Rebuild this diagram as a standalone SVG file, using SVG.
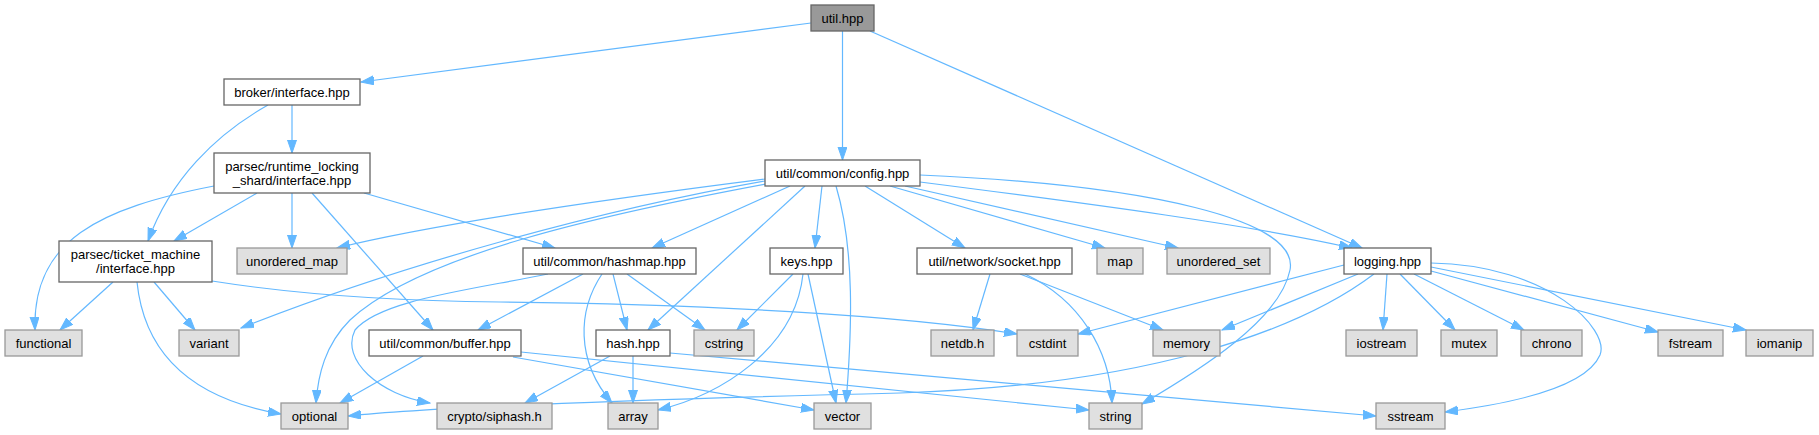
<svg xmlns="http://www.w3.org/2000/svg" width="1819" height="435" viewBox="0 0 1819 435">
<style>
.n rect{fill:#ffffff;stroke:#666666;stroke-width:1.3}
.g rect{fill:#e0e0e0;stroke:#999999;stroke-width:1.3}
.r rect{fill:#999999;stroke:#666666;stroke-width:1.3}
text{font-family:"Liberation Sans",Arial,Helvetica,sans-serif;font-size:13px;fill:#000000;text-anchor:middle}
#edges path{fill:none;stroke:#63b8ff;stroke-width:1.2;marker-end:url(#ah)}
</style>
<defs>
<marker id="ah" markerUnits="userSpaceOnUse" markerWidth="14" markerHeight="10" refX="13" refY="4.5" orient="auto">
<path d="M0,0 L13,4.5 L0,9 z" fill="#63b8ff" stroke="#63b8ff" stroke-width="1"/>
</marker>
</defs>
<rect width="1819" height="435" fill="#ffffff"/>
<g id="edges">
<path d="M811,23 L361,82"/>
<path d="M842.5,31 L842.5,160"/>
<path d="M870,31 L1362,248"/>
<path d="M292,105 L292,153"/>
<path d="M268,105 C215,135 170,180 148,241"/>
<path d="M214,186 C100,208 32,240 35,330"/>
<path d="M257,193 L174,241"/>
<path d="M292,193 L292,248"/>
<path d="M312,193 L433,330"/>
<path d="M364,193 L555,248"/>
<path d="M113,282 L60,330"/>
<path d="M154,282 L195,330"/>
<path d="M137,282 C145,360 200,400 281,414"/>
<path d="M212,281 C300,295 400,301 500,302 C700,304 900,315 1017,334"/>
<path d="M765,179 C600,200 430,225 337,248"/>
<path d="M765,181 C600,210 400,265 241,328"/>
<path d="M766,184 C600,215 420,255 350,320 C325,345 318,375 316,403"/>
<path d="M790,186 L652,248"/>
<path d="M805,186 L648,330"/>
<path d="M822,186 L815,248"/>
<path d="M836,186 C855,250 852,330 846,403"/>
<path d="M865,186 L965,248"/>
<path d="M890,186 L1105,248"/>
<path d="M905,186 L1178,248"/>
<path d="M920,182 C1100,205 1250,225 1352,248"/>
<path d="M920,175 C1150,185 1300,220 1290,270 C1280,320 1200,370 1142,404"/>
<path d="M583,274 L478,330"/>
<path d="M613,274 L627,330"/>
<path d="M627,274 L705,330"/>
<path d="M602,274 C578,310 575,360 612,403"/>
<path d="M548,274 C470,290 380,300 355,330 C340,360 380,395 430,403"/>
<path d="M793,274 L737,330"/>
<path d="M808,274 L836,403"/>
<path d="M803,274 C795,350 720,395 658,410"/>
<path d="M990,274 L973,330"/>
<path d="M1020,274 L1163,330"/>
<path d="M1025,274 C1080,300 1110,350 1112,403"/>
<path d="M633,356 L633,403"/>
<path d="M610,356 L525,403"/>
<path d="M670,353 L1376,416"/>
<path d="M423,356 L340,403"/>
<path d="M513,357 L814,410"/>
<path d="M521,352 L1089,410"/>
<path d="M1344,265 L1078,334"/>
<path d="M1358,274 L1222,330"/>
<path d="M1374,274 C1300,330 1150,385 900,393 C700,398 450,405 348,416"/>
<path d="M1387,274 L1383,330"/>
<path d="M1400,274 L1455,330"/>
<path d="M1414,274 L1524,330"/>
<path d="M1431,271 L1658,332"/>
<path d="M1431,267 L1746,330"/>
<path d="M1431,263 C1550,265 1610,330 1600,355 C1585,390 1500,405 1445,412"/>
</g>
<g id="util" class="r"><rect x="811" y="5" width="63" height="26"/><text x="842.5" y="22.5">util.hpp</text></g>
<g id="broker_interface" class="n"><rect x="224" y="79" width="136" height="26"/><text x="292" y="96.5">broker/interface.hpp</text></g>
<g id="runtime_locking_shard_interface" class="n"><rect x="214" y="153" width="156" height="40"/><text x="292" y="171">parsec/runtime_locking</text><text x="292" y="185">_shard/interface.hpp</text></g>
<g id="config" class="n"><rect x="765" y="160" width="155" height="26"/><text x="842.5" y="177.5">util/common/config.hpp</text></g>
<g id="ticket_machine_interface" class="n"><rect x="59" y="241" width="153" height="41"/><text x="135.5" y="259">parsec/ticket_machine</text><text x="135.5" y="273">/interface.hpp</text></g>
<g id="unordered_map" class="g"><rect x="237" y="248" width="110" height="26"/><text x="292" y="265.5">unordered_map</text></g>
<g id="hashmap" class="n"><rect x="523" y="248" width="173" height="26"/><text x="609.5" y="265.5">util/common/hashmap.hpp</text></g>
<g id="keys" class="n"><rect x="770" y="248" width="73" height="26"/><text x="806.5" y="265.5">keys.hpp</text></g>
<g id="socket" class="n"><rect x="917" y="248" width="155" height="26"/><text x="994.5" y="265.5">util/network/socket.hpp</text></g>
<g id="map" class="g"><rect x="1097" y="248" width="46" height="26"/><text x="1120" y="265.5">map</text></g>
<g id="unordered_set" class="g"><rect x="1167" y="248" width="103" height="26"/><text x="1218.5" y="265.5">unordered_set</text></g>
<g id="logging" class="n"><rect x="1344" y="248" width="87" height="26"/><text x="1387.5" y="265.5">logging.hpp</text></g>
<g id="functional" class="g"><rect x="5" y="330" width="77" height="26"/><text x="43.5" y="347.5">functional</text></g>
<g id="variant" class="g"><rect x="179" y="330" width="60" height="26"/><text x="209" y="347.5">variant</text></g>
<g id="buffer" class="n"><rect x="369" y="330" width="152" height="26"/><text x="445" y="347.5">util/common/buffer.hpp</text></g>
<g id="hash" class="n"><rect x="596" y="330" width="74" height="26"/><text x="633" y="347.5">hash.hpp</text></g>
<g id="cstring" class="g"><rect x="694" y="330" width="60" height="26"/><text x="724" y="347.5">cstring</text></g>
<g id="netdb" class="g"><rect x="931" y="330" width="63" height="26"/><text x="962.5" y="347.5">netdb.h</text></g>
<g id="cstdint" class="g"><rect x="1017" y="330" width="61" height="26"/><text x="1047.5" y="347.5">cstdint</text></g>
<g id="memory" class="g"><rect x="1153" y="330" width="67" height="26"/><text x="1186.5" y="347.5">memory</text></g>
<g id="iostream" class="g"><rect x="1346" y="330" width="71" height="26"/><text x="1381.5" y="347.5">iostream</text></g>
<g id="mutex" class="g"><rect x="1441" y="330" width="56" height="26"/><text x="1469" y="347.5">mutex</text></g>
<g id="chrono" class="g"><rect x="1521" y="330" width="61" height="26"/><text x="1551.5" y="347.5">chrono</text></g>
<g id="fstream" class="g"><rect x="1658" y="330" width="65" height="26"/><text x="1690.5" y="347.5">fstream</text></g>
<g id="iomanip" class="g"><rect x="1746" y="330" width="67" height="26"/><text x="1779.5" y="347.5">iomanip</text></g>
<g id="optional" class="g"><rect x="281" y="403" width="67" height="26"/><text x="314.5" y="420.5">optional</text></g>
<g id="siphash" class="g"><rect x="437" y="403" width="115" height="26"/><text x="494.5" y="420.5">crypto/siphash.h</text></g>
<g id="array" class="g"><rect x="608" y="403" width="50" height="26"/><text x="633" y="420.5">array</text></g>
<g id="vector" class="g"><rect x="814" y="403" width="57" height="26"/><text x="842.5" y="420.5">vector</text></g>
<g id="string" class="g"><rect x="1089" y="403" width="53" height="26"/><text x="1115.5" y="420.5">string</text></g>
<g id="sstream" class="g"><rect x="1376" y="403" width="69" height="26"/><text x="1410.5" y="420.5">sstream</text></g>
</svg>
